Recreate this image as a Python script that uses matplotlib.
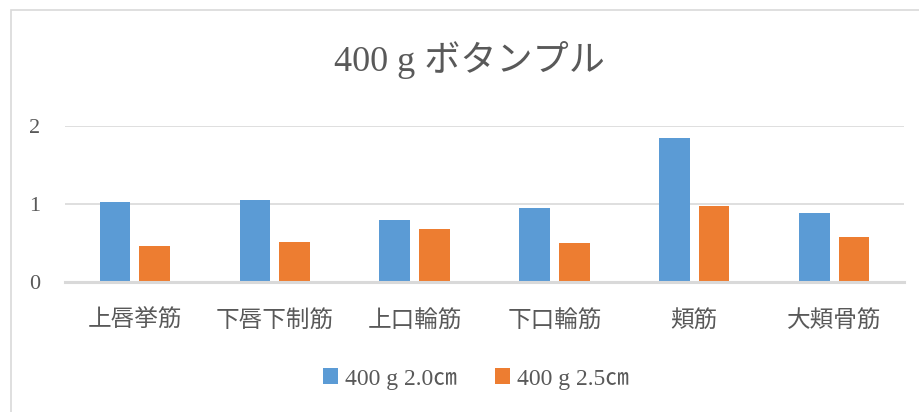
import numpy as np
from matplotlib import pyplot as plt
from matplotlib.patches import Rectangle

# 筋肉の名前
muscles = ['上唇挙筋', '下唇下制筋', '上口輪筋', '下口輪筋', '頬筋', '大頬骨筋']
# 2.0cm / 2.5cm の値
val_20 = [1.03, 1.05, 0.80, 0.95, 1.85, 0.88]
val_25 = [0.46, 0.51, 0.68, 0.50, 0.97, 0.58]
series_names = ['400 g 2.0㎝', '400 g 2.5㎝']
y_ticks = [0, 1, 2]

plt.rcParams['font.family'] = ['Liberation Serif', 'Noto Sans CJK JP', 'DejaVu Sans']
plt.rcParams['axes.unicode_minus'] = False

txt_col = '#595959'
grid_col = '#D9D9D9'

fig = plt.figure(figsize=(9.2, 4.12), dpi=100)
# chart frame
fig.patches.append(Rectangle((11 / 920, -0.05), 1.0, 1 - 10 / 412 + 0.05,
                             transform=fig.transFigure, fill=False,
                             edgecolor=grid_col, lw=1.2))

ax = fig.add_axes([65 / 920, 1 - 282 / 412, 839 / 920, 156 / 412])
x = np.arange(len(muscles))
w = 0.22
off = 0.142
ax.bar(x - off, val_20, width=w, color='#5B9BD5', label=series_names[0], zorder=3)
ax.bar(x + off, val_25, width=w, color='#ED7D31', label=series_names[1], zorder=3)

ax.set_xlim(-0.5, len(muscles) - 0.5)
ax.set_ylim(0, 2)
ax.set_yticks(y_ticks)
ax.set_yticklabels([str(t) for t in y_ticks])
ax.set_xticks(x)
ax.set_xticklabels(muscles)
ax.tick_params(axis='both', length=0, colors=txt_col)
ax.tick_params(axis='x', pad=20, labelsize=17)
ax.tick_params(axis='y', pad=18, labelsize=16)
for s in ['top', 'right', 'left']:
    ax.spines[s].set_visible(False)
ax.spines['bottom'].set_color(grid_col)
ax.spines['bottom'].set_linewidth(2.2)
ax.spines['bottom'].set_zorder(4)
ax.grid(axis='y', color=grid_col, lw=1.2, zorder=0)

fig.text(469 / 920, 1 - 60 / 412, '400 g ボタンプル', ha='center', va='center',
         fontsize=26, color=txt_col)

fig.legend(loc='center', bbox_to_anchor=(476 / 920, 1 - 379 / 412), ncol=2,
           frameon=False, fontsize=17, labelcolor=txt_col,
           handlelength=0.65, handleheight=0.65, handletextpad=0.3,
           columnspacing=1.6)

plt.savefig('out.png')
